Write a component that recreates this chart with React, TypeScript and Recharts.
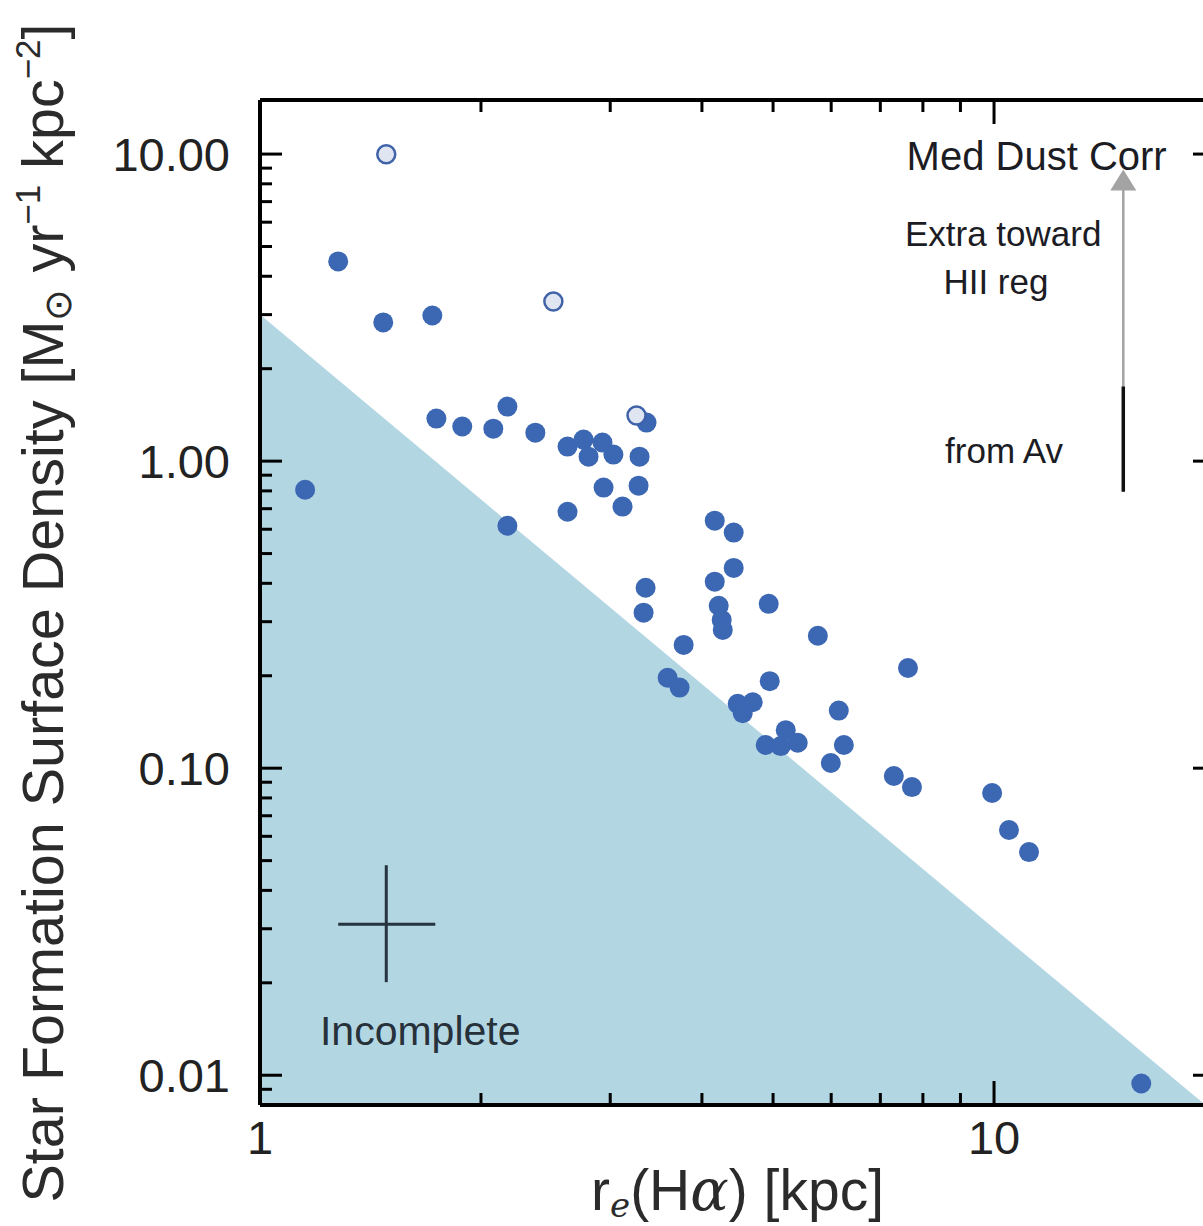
import React from 'react';
import { ComposedChart, Scatter, Area, XAxis, YAxis, ReferenceLine, ReferenceDot } from 'recharts';

// galaxies: effective radius of H-alpha emission [kpc] vs SFR surface density
const radius = [1.152, 1.278, 1.472, 1.717, 1.739, 1.886, 2.079, 2.173, 2.372, 2.624, 2.759, 2.803, 2.928, 3.03, 3.362, 3.289, 2.938, 3.279, 3.118, 2.624, 2.173, 4.164, 4.419, 3.352, 3.331, 4.419, 4.164, 4.216, 4.256, 4.27, 4.932, 5.754, 3.777, 3.592, 3.729, 4.948, 4.475, 4.691, 4.546, 7.634, 6.145, 4.886, 5.203, 5.122, 5.402, 6.243, 5.993, 7.303, 7.73, 9.94, 10.48, 11.16, 15.87];
const sigma = [0.807, 4.47, 2.83, 2.98, 1.376, 1.296, 1.276, 1.505, 1.238, 1.115, 1.175, 1.034, 1.149, 1.05, 1.335, 1.034, 0.82, 0.832, 0.711, 0.684, 0.616, 0.64, 0.585, 0.387, 0.321, 0.449, 0.405, 0.338, 0.304, 0.282, 0.343, 0.27, 0.252, 0.197, 0.183, 0.192, 0.162, 0.164, 0.151, 0.212, 0.154, 0.119, 0.133, 0.118, 0.121, 0.119, 0.104, 0.0943, 0.0868, 0.083, 0.0629, 0.0533, 0.0094];

// open symbols
const openRadius = [1.486, 2.51, 3.258];
const openSigma = [9.98, 3.31, 1.407];

// incompleteness boundary (shaded below)
const limitRadius = [1, 19.4];
const limitSigma = [3, 0.008];

const xTicks = [1, 2, 3, 4, 5, 6, 7, 8, 9, 10];
const xMajor = [1, 10];
const yTicks = [0.009, 0.01, 0.02, 0.03, 0.04, 0.05, 0.06, 0.07, 0.08, 0.09, 0.1, 0.2, 0.3, 0.4, 0.5, 0.6, 0.7, 0.8, 0.9, 1, 2, 3, 4, 5, 6, 7, 8, 9, 10];
const yMajor = [0.01, 0.1, 1, 10];

const filled = radius.map((x, i) => ({ x, y: sigma[i] }));
const open = openRadius.map((x, i) => ({ x, y: openSigma[i] }));
const limit = limitRadius.map((x, i) => ({ x, y: limitSigma[i] }));

const FONT = "'Liberation Sans', Arial, sans-serif";
const INK = '#1c1c24';
const BLUE = '#3b67b3';

const BottomTick = ({ x, y, payload }: any) => {
  const major = xMajor.includes(payload.value);
  return (
    <g>
      <line x1={x} y1={y} x2={x} y2={y - (major ? 24 : 12)} stroke="#000" strokeWidth={3} />
      {major && (
        <text x={x} y={y + 49} textAnchor="middle" fontSize={47} fontFamily={FONT} fill="#222">
          {payload.value}
        </text>
      )}
    </g>
  );
};

const TopTick = ({ x, y, payload }: any) => {
  const major = xMajor.includes(payload.value);
  return <line x1={x} y1={y} x2={x} y2={y + (major ? 24 : 12)} stroke="#000" strokeWidth={3} />;
};

const LeftTick = ({ x, y, payload }: any) => {
  const major = yMajor.includes(payload.value);
  return (
    <g>
      <line x1={x} y1={y} x2={x + (major ? 22 : 12)} y2={y} stroke="#000" strokeWidth={3} />
      {major && (
        <text x={x - 30} y={y + 17} textAnchor="end" fontSize={47} fontFamily={FONT} fill="#222">
          {payload.value.toFixed(2)}
        </text>
      )}
    </g>
  );
};

const RightTick = ({ x, y, payload }: any) => {
  const major = yMajor.includes(payload.value);
  return <line x1={x} y1={y} x2={x - (major ? 22 : 12)} y2={y} stroke="#000" strokeWidth={3} />;
};

const FilledDot = ({ cx, cy }: any) => <circle cx={cx} cy={cy} r={10} fill={BLUE} />;
const OpenDot = ({ cx, cy }: any) => (
  <circle cx={cx} cy={cy} r={9} fill="#dfe6f1" stroke="#3f62a8" strokeWidth={2.5} />
);

const ArrowUp = ({ x1, y1, x2, y2 }: any) => (
  <g>
    <line x1={x1} y1={y1} x2={x2} y2={y2 + 12} stroke="#a3a3a3" strokeWidth={2.5} />
    <polygon points={`${x2},${y2} ${x2 - 13},${y2 + 21} ${x2 + 13},${y2 + 21}`} fill="#a3a3a3" />
  </g>
);

const note = (value: string) => ({
  value,
  position: 'center' as const,
  fontSize: 35,
  fontFamily: FONT,
  fill: INK,
});

const YTitle = () => (
  <text
    transform="translate(63, 613) rotate(-90)"
    textAnchor="middle"
    fontSize={57.5}
    fontFamily={FONT}
    fill="#2b2b2b"
  >
    Star Formation Surface Density [M
    <tspan fontSize={38} dy={8}>⊙</tspan>
    <tspan dy={-8}> yr</tspan>
    <tspan fontSize={35} dy={-23}>−1</tspan>
    <tspan dy={23}> kpc</tspan>
    <tspan fontSize={35} dy={-23}>−2</tspan>
    <tspan dy={23}>]</tspan>
  </text>
);

const XTitle = ({ viewBox }: any) => (
  <text x={viewBox.x + viewBox.width / 2} y={1210} textAnchor="middle" fontSize={57} fontFamily={FONT} fill="#2b2b2b">
    r<tspan fontSize={34} dy={7} fontFamily="'DejaVu Serif', serif" fontStyle="italic">e</tspan>
    <tspan dy={-7}>(H</tspan>
    <tspan fontFamily="'DejaVu Serif', serif" fontStyle="italic">α</tspan>
    <tspan>) [kpc]</tspan>
  </text>
);

export default function App() {
  return (
    <div style={{ position: 'absolute', left: 0, top: 0, width: 1203, height: 1226, overflow: 'hidden', background: '#fff' }}>
      <ComposedChart width={1240} height={1226} margin={{ top: 99, right: 24, bottom: 61, left: 200 }}>
        <XAxis
          xAxisId="b"
          dataKey="x"
          type="number"
          scale="log"
          domain={[1, 20]}
          allowDataOverflow
          ticks={xTicks}
          interval={0}
          tickSize={0}
          tickMargin={0}
          tick={<BottomTick />}
          height={60}
          axisLine={{ stroke: '#000', strokeWidth: 4 }}
          label={<XTitle />}
        />
        <XAxis
          xAxisId="t"
          orientation="top"
          dataKey="x"
          type="number"
          scale="log"
          domain={[1, 20]}
          allowDataOverflow
          ticks={xTicks}
          interval={0}
          tickSize={0}
          tickMargin={0}
          tick={<TopTick />}
          height={1}
          axisLine={{ stroke: '#000', strokeWidth: 4 }}
        />
        <YAxis
          yAxisId="l"
          dataKey="y"
          type="number"
          scale="log"
          domain={[0.008, 15]}
          allowDataOverflow
          ticks={yTicks}
          interval={0}
          tickSize={0}
          tickMargin={0}
          tick={<LeftTick />}
          width={60}
          axisLine={{ stroke: '#000', strokeWidth: 4 }}
          label={<YTitle />}
        />
        <YAxis
          yAxisId="r"
          orientation="right"
          dataKey="y"
          type="number"
          scale="log"
          domain={[0.008, 15]}
          allowDataOverflow
          ticks={yTicks}
          interval={0}
          tickSize={0}
          tickMargin={0}
          tick={<RightTick />}
          width={1}
          axisLine={{ stroke: '#000', strokeWidth: 4 }}
        />

        <Area
          xAxisId="b"
          yAxisId="l"
          data={limit}
          dataKey="y"
          type="linear"
          stroke="none"
          fill="#b3d6e3"
          fillOpacity={1}
          baseValue="dataMin"
          isAnimationActive={false}
        />

        {/* typical error bar */}
        <ReferenceLine xAxisId="b" yAxisId="l" segment={[{ x: 1.278, y: 0.031 }, { x: 1.733, y: 0.031 }]} stroke="#26343f" strokeWidth={3} />
        <ReferenceLine xAxisId="b" yAxisId="l" segment={[{ x: 1.486, y: 0.0201 }, { x: 1.486, y: 0.0483 }]} stroke="#26343f" strokeWidth={3} />
        <ReferenceDot xAxisId="b" yAxisId="l" x={1.653} y={0.014} r={0} fill="none" stroke="none" label={{ ...note('Incomplete'), fontSize: 41, fill: '#27313a' }} />

        {/* dust correction arrows */}
        <ReferenceLine xAxisId="b" yAxisId="l" segment={[{ x: 15, y: 0.795 }, { x: 15, y: 8.9 }]} shape={<ArrowUp />} />
        <ReferenceLine xAxisId="b" yAxisId="l" segment={[{ x: 15, y: 0.795 }, { x: 15, y: 1.75 }]} stroke="#111" strokeWidth={3.5} />
        <ReferenceDot xAxisId="b" yAxisId="l" x={11.43} y={9.84} r={0} fill="none" stroke="none" label={{ ...note('Med Dust Corr'), fontSize: 40 }} />
        <ReferenceDot xAxisId="b" yAxisId="l" x={10.29} y={5.52} r={0} fill="none" stroke="none" label={note('Extra toward')} />
        <ReferenceDot xAxisId="b" yAxisId="l" x={10.06} y={3.85} r={0} fill="none" stroke="none" label={note('HII reg')} />
        <ReferenceDot xAxisId="b" yAxisId="l" x={10.32} y={1.08} r={0} fill="none" stroke="none" label={note('from Av')} />

        <Scatter xAxisId="b" yAxisId="l" data={filled} dataKey="y" shape={<FilledDot />} isAnimationActive={false} />
        <Scatter xAxisId="b" yAxisId="l" data={open} dataKey="y" shape={<OpenDot />} isAnimationActive={false} />
      </ComposedChart>
    </div>
  );
}
